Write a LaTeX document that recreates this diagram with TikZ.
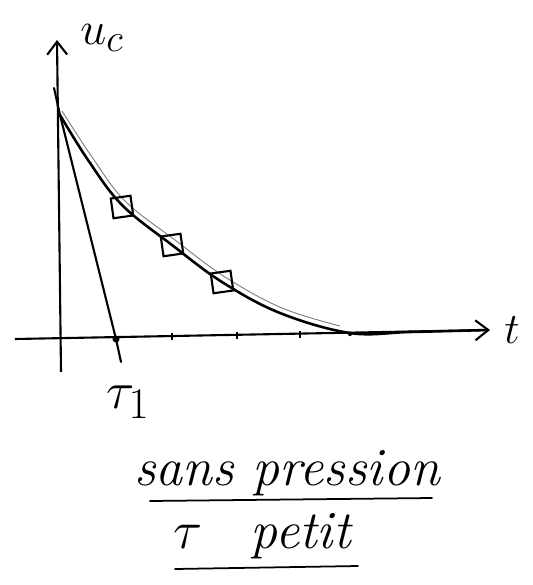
\documentclass[tikz,border=0pt]{standalone}
\usetikzlibrary{arrows.meta}
\tikzset{
  axis/.style={line width=1.8pt, -{Straight Barb[length=11pt,width=17pt,line width=1.8pt]}},
  ink/.style={line width=1.8pt, line cap=round},
  marker/.style={draw, line width=1.8pt, minimum size=17pt, inner sep=0pt, rotate=8},
  tick/.style={line width=1.6pt},
  hand/.style={font=\Huge\itshape, inner sep=0pt},
}
\begin{document}
\begin{tikzpicture}[x=0.03cm,y=-0.03cm]
\useasboundingbox (0,0) rectangle (533,585);
% axes
\coordinate (ybot) at (61,372);
\coordinate (ytop) at (57,40);
\coordinate (xleft) at (15,339);
\coordinate (xright) at (490,330);
\draw[axis] (ybot) -- (ytop);
\draw[axis] (xleft) -- (xright);
\node[hand, scale=1.6] (uc) at (102,38) {$u_c$};
\node[hand, scale=1.5] (t) at (512,330) {$t$};
% ticks
\foreach \x/\y in {172/337, 237/336, 300/335}
  \draw[tick] (\x,\y-4) -- (\x,\y+3);
\coordinate (d5) at (350,334);
\fill (d5) circle (1.8pt);
% curve
\coordinate (c0) at (60,115);
\draw[ink, line width=2.2pt] plot[smooth, tension=0.6] coordinates {(60,115) (88,160) (122,205) (172,245) (222,282) (280,313) (350,333) (410,332) (488,330)};
\draw[gray, line width=0.8pt] plot[smooth, tension=0.6] coordinates {(62,111) (92,157) (125,201) (175,240) (225,277) (282,308) (340,326)};
% tangent
\coordinate (tau) at (116,339);
\coordinate (tanend) at (121,362);
\draw[ink] (c0) -- (tau) -- (tanend);
\fill (tau) circle (3pt);
\draw[ink] (54,88) -- (c0);
% markers
\node[marker] (m1) at (122,207) {};
\node[marker] (m2) at (172,245) {};
\node[marker] (m3) at (222,282) {};
\node[hand, scale=1.8] (taulabel) at (128,402) {$\tau_1$};
% text
\node[hand, scale=1.85] (sp) at (287,473) {sans pression};
\draw[ink, line width=1.5pt] (150,501) -- (432,498);
\node[hand, scale=1.85] (tp) at (262,536) {$\tau$\hspace{0.9em}petit};
\draw[ink, line width=1.5pt] (175,569) -- (358,566);
\end{tikzpicture}
\end{document}
